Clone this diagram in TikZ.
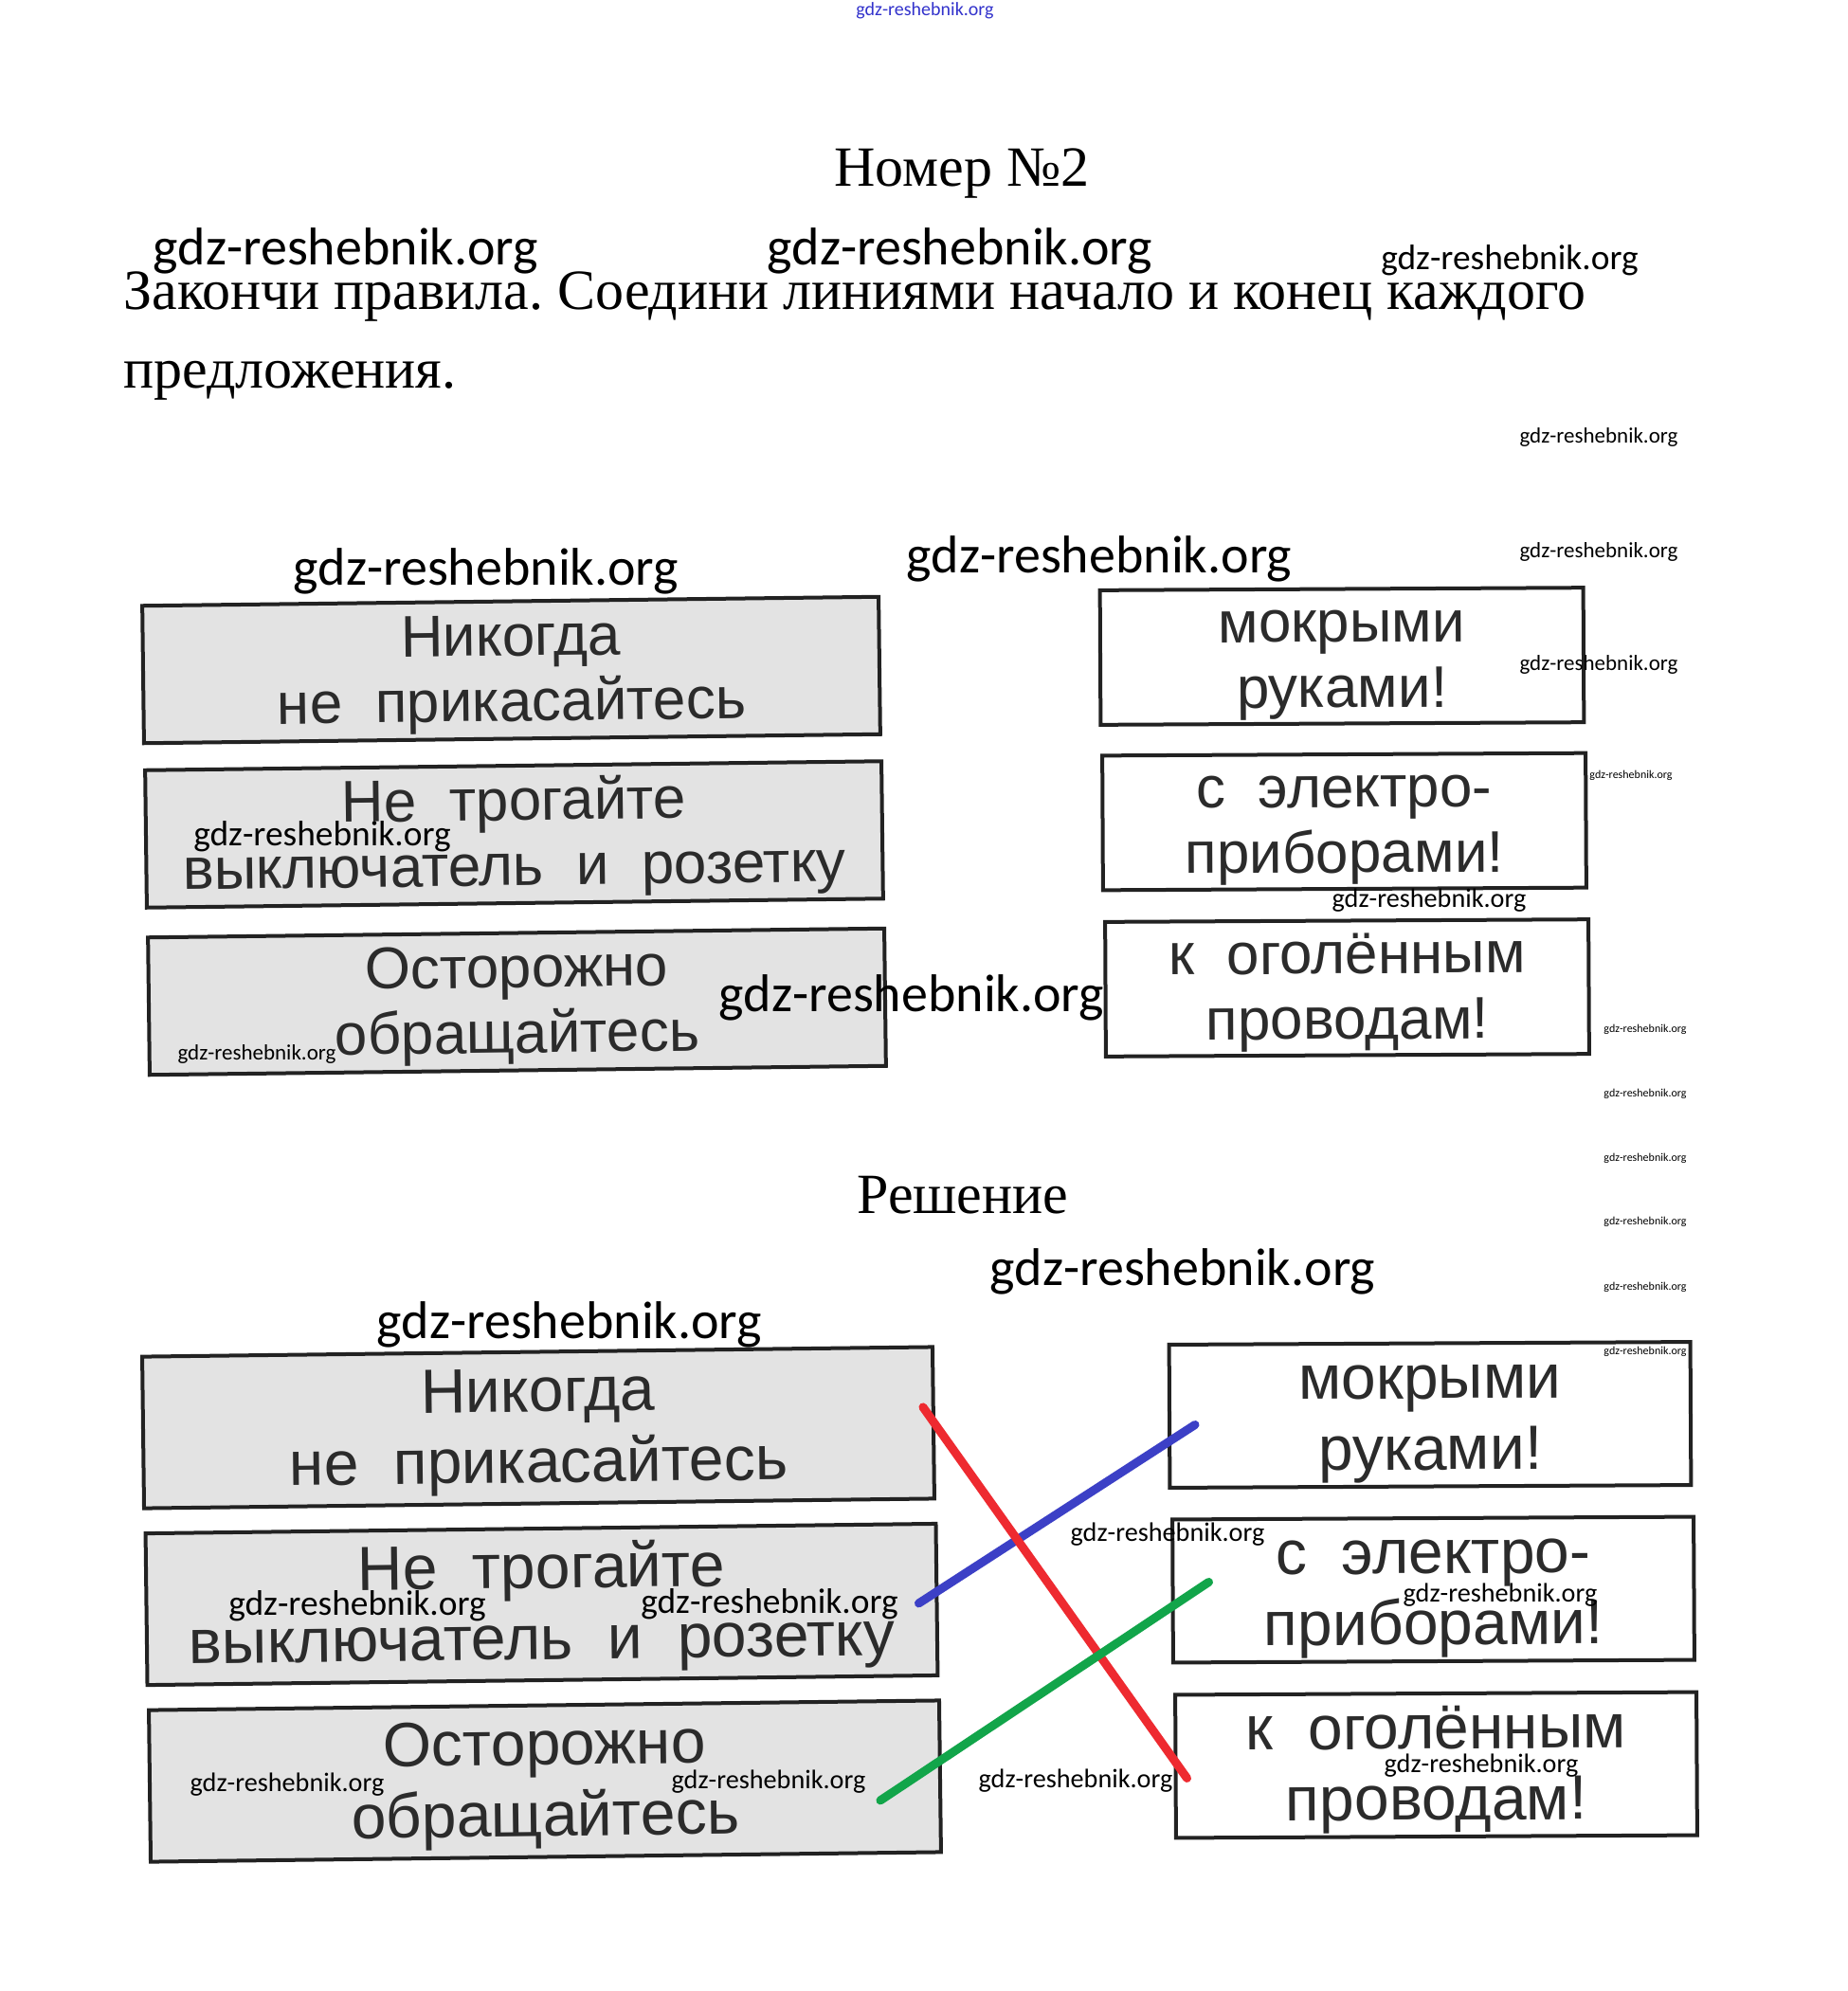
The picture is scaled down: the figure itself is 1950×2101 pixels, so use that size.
\documentclass[tikz,border=0pt]{standalone}
\usepackage{fontspec}
\setmainfont{Liberation Serif}
\newfontfamily\cardfont{Liberation Sans}
\newfontfamily\wmfont{Carlito}
\usepackage{tikz}
\frenchspacing

\definecolor{boxgray}{HTML}{E3E3E3}
\definecolor{boxline}{HTML}{222222}
\definecolor{boxtext}{HTML}{2B2B2B}
\definecolor{linered}{HTML}{EE2A30}
\definecolor{lineblue}{HTML}{3C40C6}
\definecolor{linegreen}{HTML}{12A54A}
\definecolor{wmblue}{HTML}{3333CC}

\begin{document}
\begin{tikzpicture}[x=0.5pt, y=-0.5pt,
	card/.style={draw=boxline, line width=2pt, text=boxtext, align=center, inner sep=0pt},
	lbox/.style={card, fill=boxgray, rotate=0.7},
	rbox/.style={card, fill=white, rotate=0.3},
	topl/.style={minimum width=388.5pt, minimum height=72.5pt, text height=60.5pt, text depth=6.5pt, font=\cardfont\fontsize{31}{34.5}\selectfont},
	topr/.style={minimum width=255pt, minimum height=71pt, text height=60.5pt, text depth=6.5pt, font=\cardfont\fontsize{31}{34.5}\selectfont},
	botl/.style={minimum width=417pt, minimum height=80pt, text height=65pt, text depth=7pt, font=\cardfont\fontsize{33}{37.5}\selectfont},
	botr/.style={minimum width=275pt, minimum height=75.5pt, text height=65pt, text depth=7pt, font=\cardfont\fontsize{33}{37.5}\selectfont},
	head/.style={font=\fontsize{30}{36}\selectfont, inner sep=0pt},
	match/.style={line width=4.5pt, line cap=round},
	wm/.style={inner sep=0pt, text=black}]
	\useasboundingbox [fill=white] (0,0) rectangle (1950,2101);

	% task
	\node [head, anchor=base] (title) at (1015,196) {Номер №2};
	\node [head, anchor=base west] (task) at (130,326) {Закончи правила. Соедини линиями начало и конец каждого};
	\node [head, anchor=base west] (task2) at (130,409) {предложения.};

	% cards
	\node [lbox, topl] (tl1) at (539.5,707) {Никогда\\не~~прикасайтесь};
	\node [lbox, topl] (tl2) at (542.5,880.5) {Не~~трогайте\\выключатель~~и~~розетку};
	\node [lbox, topl] (tl3) at (545.5,1057) {Осторожно\\обращайтесь};
	\node [rbox, topr] (tr1) at (1416,692.5) {мокрыми\\руками!};
	\node [rbox, topr] (tr2) at (1418.5,867) {с~~электро-\\приборами!};
	\node [rbox, topr] (tr3) at (1421.5,1042.5) {к~~оголённым\\проводам!};

	% answer
	\node [head, anchor=base] (answer) at (1016,1280) {Решение};
	\node [lbox, botl] (bl1) at (568,1506.5) {Никогда\\не~~прикасайтесь};
	\node [lbox, botl] (bl2) at (571.5,1693) {Не~~трогайте\\выключатель~~и~~розетку};
	\node [lbox, botl] (bl3) at (575,1879.5) {Осторожно\\обращайтесь};
	\node [rbox, botr] (br1) at (1509,1493) {мокрыми\\руками!};
	\node [rbox, botr] (br2) at (1512.5,1677.5) {с~~электро-\\приборами!};
	\node [rbox, botr] (br3) at (1515.5,1862.5) {к~~оголённым\\проводам!};

	\draw [match, lineblue] ([shift={(-21,4)}]bl2.east) -- ([shift={(29,9)}]br1.west);
	\draw [match, linered] ([shift={(-13,-16.5)}]bl1.east) -- ([shift={(14,12.5)}]br3.west);
	\draw [match, linegreen] ([shift={(-65,25.5)}]bl3.east) -- ([shift={(40,-9.5)}]br2.west);

	% watermarks
	\node [wm, text=wmblue, font=\wmfont\fontsize{10}{12}\selectfont] (w0) at (976,11) {gdz-reshebnik.org};
	\foreach \x/\y/\s [count=\i] in {365/265/28, 1013/265/28, 1593/275/18.7, 1687/461/11.5,
		513/603/28, 1160/590/28, 1687/582/11.5, 1687/701/11.5, 1721/818/6, 340/883/18.7,
		1508/950/14.1, 1736/1086/6, 962/1053/28, 271/1112/11.5, 1736/1154/6, 1736/1222/6,
		1736/1289/6, 1736/1358/6, 1736/1426/6, 1248/1342/28, 601/1398/28, 1232/1619/14.1,
		377/1695/18.7, 812/1693/18.7, 1583/1683/14.1, 303/1883/14.1, 811/1880/14.1,
		1135/1879/14.1, 1563/1863/14.1}
		\node [wm, font=\wmfont\fontsize{\s}{\s}\selectfont] (w\i) at (\x,\y) {gdz-reshebnik.org};
\end{tikzpicture}
\end{document}
